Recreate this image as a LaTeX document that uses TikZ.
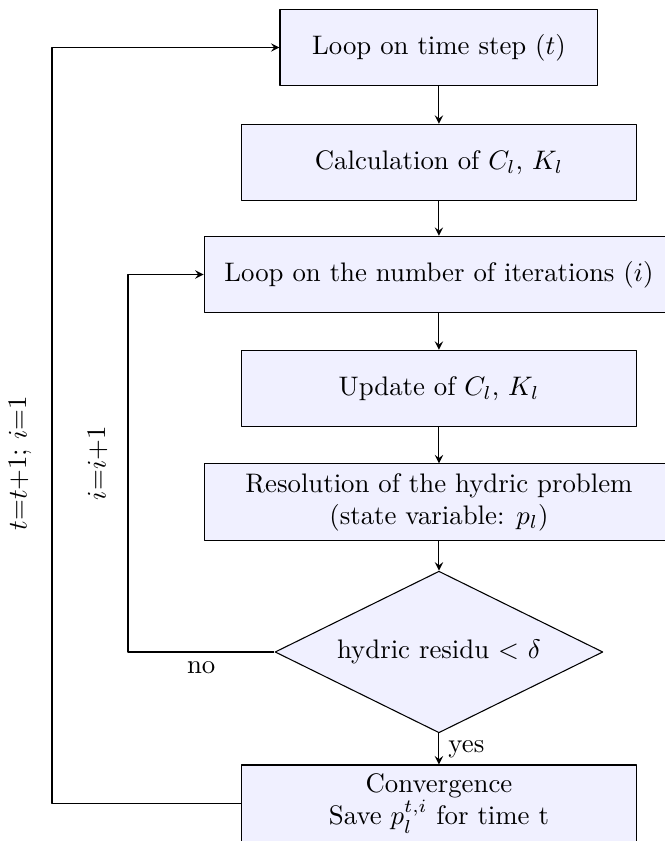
\documentclass[tikz,border=0pt]{standalone}
\usetikzlibrary{shapes.geometric}

\begin{document}
\begin{tikzpicture}[
        line join=round,
        >=stealth,
        block/.style = {draw, fill=blue!6, minimum height=1cm, align=center},
        test/.style = {draw, diamond, aspect=2, fill=blue!6, minimum width=4.3cm, minimum height=2.12cm}
    ]

    \useasboundingbox (0,0) rectangle (8.72,-11.03);

    \node[block, minimum width=4.17cm] (time) at (5.757,-0.623) {Loop on time step $(t)$};
    \node[block, minimum width=5.18cm] (calc) at (5.757,-2.131) {Calculation of $C_l$, $K_l$};
    \node[block, minimum width=6.16cm] (iter) at (5.757,-3.600) {Loop on the number of iterations $(i)$};
    \node[block, minimum width=5.18cm] (update) at (5.757,-5.095) {Update of $C_l$, $K_l$};
    \node[block, minimum width=6.16cm] (solve) at (5.757,-6.584) {Resolution of the hydric problem\\(state variable: $p_l$)};
    \node[test] (residu) at (5.757,-8.551) {hydric residu $<$ $\delta$};
    \node[block, minimum width=5.18cm] (save) at (5.757,-10.538) {Convergence\\Save $p_l^{t,i}$ for time t};

    \coordinate (inner) at (1.679,-3.600);
    \coordinate (outer) at (0.682,-0.623);

    \draw[->] (time) -- (calc);
    \draw[->] (calc) -- (iter);
    \draw[->] (iter) -- (update);
    \draw[->] (update) -- (solve);
    \draw[->] (solve) -- (residu);
    \draw[->] (residu) -- node[right] {yes} (save);

    % loops
    \draw[->] (residu) -- node[below] {no} (residu -| inner) -- node[midway, above=4pt, sloped] {$i$=$i$+1} (inner) -- (iter);
    \draw[->] (save) -- (save -| outer) -- node[pos=0.45, above=4pt, sloped] {$t$=$t$+1; $i$=1} (outer) -- (time);
\end{tikzpicture}
\end{document}
